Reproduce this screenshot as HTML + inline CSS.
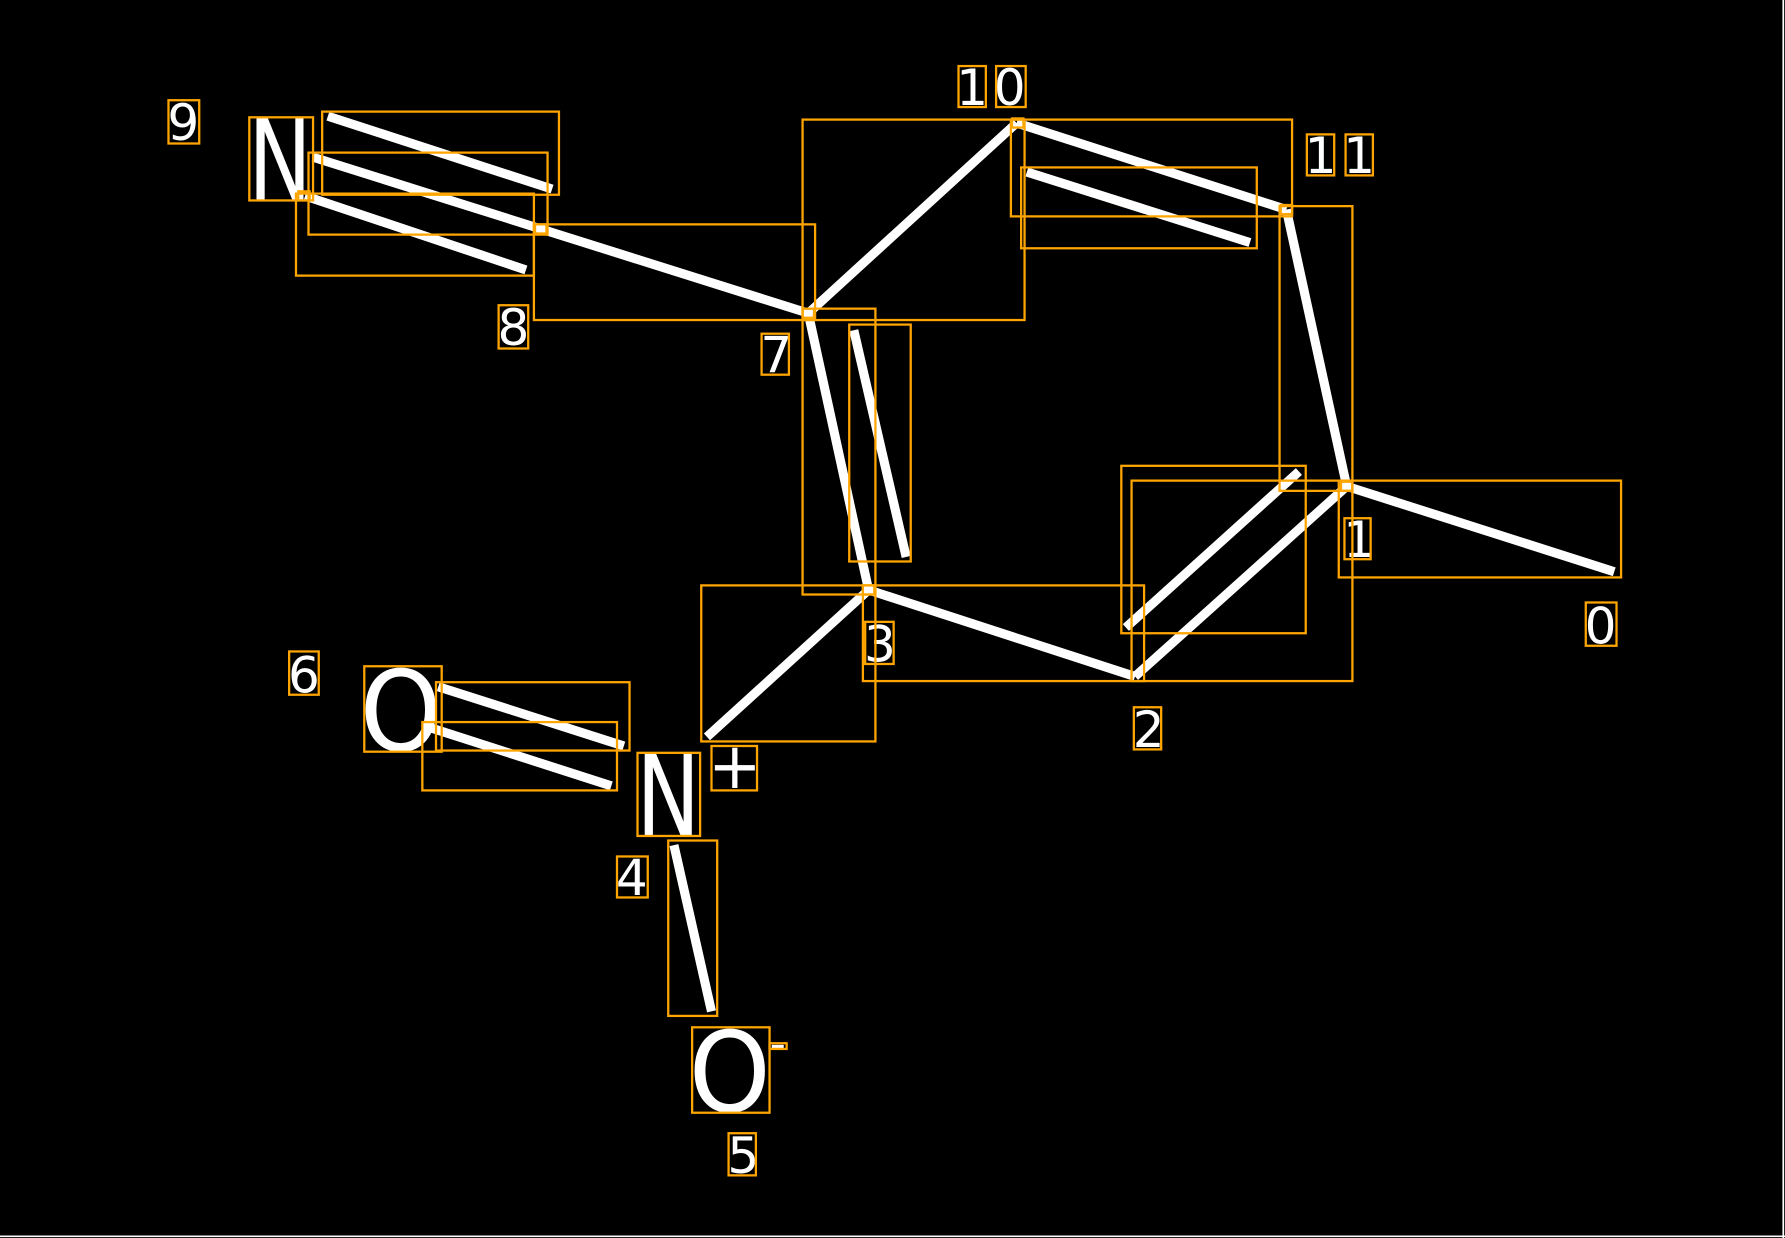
<!DOCTYPE html>
<html><head><style>html,body{margin:0;padding:0;background:#000;}svg{display:block}</style></head>
<body>
<svg width="1785" height="1238" viewBox="0 0 1568 1087" preserveAspectRatio="none" xmlns="http://www.w3.org/2000/svg">
<rect width="1568" height="1087" fill="#000"/>
<line x1="1566.5" y1="0" x2="1566.5" y2="1087" stroke="#fff" stroke-width="1.5"/>
<line x1="0" y1="1085.5" x2="1568" y2="1085.5" stroke="#fff" stroke-width="1.5"/>
<g stroke="#fff" stroke-width="8" stroke-linecap="butt">
<line x1="288" y1="102" x2="485" y2="166"/>
<line x1="275" y1="138" x2="710" y2="275"/>
<line x1="268" y1="172" x2="462" y2="237"/>
<line x1="710" y1="275" x2="893" y2="108"/>
<line x1="893" y1="108" x2="1130" y2="184"/>
<line x1="902" y1="151" x2="1098" y2="213"/>
<line x1="1130" y1="184" x2="1183" y2="427"/>
<line x1="1183" y1="427" x2="1418" y2="502"/>
<line x1="1183" y1="427" x2="997" y2="594"/>
<line x1="1141" y1="414" x2="989" y2="551"/>
<line x1="997" y1="594" x2="763" y2="518"/>
<line x1="763" y1="518" x2="710" y2="275"/>
<line x1="750" y1="290" x2="796" y2="489"/>
<line x1="763" y1="518" x2="621" y2="647"/>
<line x1="385" y1="603" x2="548" y2="655"/>
<line x1="375" y1="638" x2="537" y2="690"/>
<line x1="592" y1="742" x2="625" y2="888"/>
</g>
<g fill="#fff" font-family="DejaVu Sans, Liberation Sans, sans-serif">
<text x="218" y="175" font-size="98" textLength="56" lengthAdjust="spacingAndGlyphs">N</text>
<text x="316" y="659" font-size="98" textLength="72" lengthAdjust="spacingAndGlyphs">O</text>
<text x="559" y="733" font-size="98" textLength="56" lengthAdjust="spacingAndGlyphs">N</text>
<text x="605" y="976" font-size="98" textLength="72" lengthAdjust="spacingAndGlyphs">O</text>
<text x="622" y="692" font-size="56">+</text>
<text x="676" y="930" font-size="40">-</text>
<g font-size="44">
<text x="147" y="123">9</text>
<text x="437" y="303">8</text>
<text x="668" y="327">7</text>
<text x="840" y="92">1</text><text x="873" y="92">0</text>
<text x="1146" y="152">1</text><text x="1180" y="152">1</text>
<text x="1180" y="489">1</text>
<text x="1392" y="565">0</text>
<text x="995" y="656">2</text>
<text x="759" y="581">3</text>
<text x="253" y="608">6</text>
<text x="541" y="786">4</text>
<text x="639" y="1030">5</text>
</g>
</g>
<g fill="none" stroke="#FFA500" stroke-width="2">
<rect x="148" y="88" width="27" height="38"/>
<rect x="219" y="103" width="56" height="73"/>
<rect x="283" y="98" width="208" height="73"/>
<rect x="271" y="134" width="210" height="72"/>
<rect x="260" y="170" width="209" height="72"/>
<rect x="262" y="168" width="10" height="8"/>
<rect x="470" y="197" width="10" height="8"/>
<rect x="469" y="197" width="247" height="84"/>
<rect x="438" y="268" width="26" height="38"/>
<rect x="669" y="293" width="24" height="36"/>
<rect x="705" y="105" width="195" height="176"/>
<rect x="705" y="271" width="10" height="8"/>
<rect x="842" y="58" width="24" height="36"/>
<rect x="875" y="58" width="26" height="36"/>
<rect x="888" y="105" width="247" height="85"/>
<rect x="889" y="104" width="10" height="8"/>
<rect x="897" y="147" width="207" height="71"/>
<rect x="1148" y="118" width="24" height="36"/>
<rect x="1182" y="118" width="24" height="36"/>
<rect x="1124" y="181" width="64" height="250"/>
<rect x="1125" y="180" width="10" height="8"/>
<rect x="1176" y="422" width="248" height="85"/>
<rect x="1178" y="423" width="10" height="8"/>
<rect x="1181" y="455" width="23" height="36"/>
<rect x="1393" y="529" width="27" height="38"/>
<rect x="985" y="409" width="162" height="147"/>
<rect x="994" y="422" width="194" height="176"/>
<rect x="758" y="514" width="247" height="84"/>
<rect x="758" y="514" width="10" height="8"/>
<rect x="996" y="621" width="24" height="37"/>
<rect x="705" y="271" width="64" height="251"/>
<rect x="746" y="285" width="54" height="208"/>
<rect x="760" y="546" width="25" height="37"/>
<rect x="616" y="514" width="153" height="137"/>
<rect x="254" y="572" width="26" height="38"/>
<rect x="320" y="585" width="68" height="75"/>
<rect x="383" y="599" width="170" height="60"/>
<rect x="371" y="634" width="171" height="60"/>
<rect x="560" y="661" width="55" height="73"/>
<rect x="625" y="655" width="40" height="39"/>
<rect x="542" y="752" width="27" height="36"/>
<rect x="587" y="738" width="43" height="154"/>
<rect x="608" y="902" width="68" height="75"/>
<rect x="676" y="916" width="15" height="5"/>
<rect x="640" y="995" width="24" height="37"/>
</g>
</svg>
</body></html>
